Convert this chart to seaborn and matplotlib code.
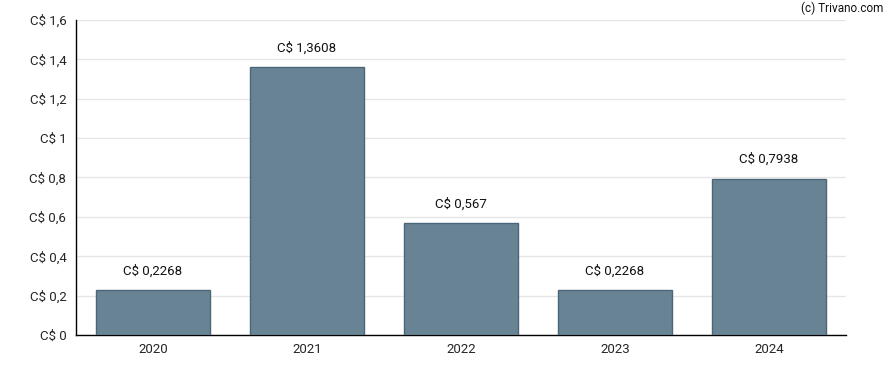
import matplotlib
matplotlib.use("Agg")
import matplotlib.pyplot as plt
import pandas as pd
import seaborn as sns
from matplotlib.ticker import FuncFormatter

years = ["2020", "2021", "2022", "2023", "2024"]
dividends = [0.2268, 1.3608, 0.567, 0.2268, 0.7938]
labels = ["C$ 0,2268", "C$ 1,3608", "C$ 0,567", "C$ 0,2268", "C$ 0,7938"]

df = pd.DataFrame({"year": years, "dividend": dividends})

sns.set_style("white")
plt.rcParams["font.family"] = ["Roboto", "DejaVu Sans"]

fig = plt.figure(figsize=(8.88, 3.70), dpi=100)
ax = fig.add_axes([0.0856, 0.0946, 0.8671, 0.8514])

sns.barplot(data=df, x="year", y="dividend", color="#678394", saturation=1,
            width=0.74, edgecolor="#4b6579", linewidth=1, ax=ax, zorder=3)

for i, (v, lab) in enumerate(zip(dividends, labels)):
    ax.annotate(lab, (i, v), xytext=(0, 9), textcoords="offset points",
                ha="center", va="bottom", fontsize=9.5, color="#111111")

ax.set_ylim(0, 1.6)
ax.set_yticks([0, 0.2, 0.4, 0.6, 0.8, 1.0, 1.2, 1.4, 1.6])
ax.yaxis.set_major_formatter(FuncFormatter(
    lambda v, _: "C$ " + (f"{v:.1f}".rstrip("0").rstrip(".")).replace(".", ",")))
ax.grid(axis="y", color="#e6e6e6", linewidth=1, zorder=0)
ax.set_axisbelow(True)
ax.set_xlabel("")
ax.set_ylabel("")

for s in ["top", "right"]:
    ax.spines[s].set_visible(False)
for s in ["left", "bottom"]:
    ax.spines[s].set_color("black")
    ax.spines[s].set_linewidth(1)

ax.tick_params(axis="y", length=4, width=1, color="black", labelsize=9.5, pad=3)
ax.tick_params(axis="x", length=0, labelsize=9.5, pad=6)
ax.set_xlim(-0.5, 4.5)

fig.text(0.995, 0.995, "(c) Trivano.com", ha="right", va="top", fontsize=8.5,
         color="#111111")

fig.savefig("out.png", dpi=100)
